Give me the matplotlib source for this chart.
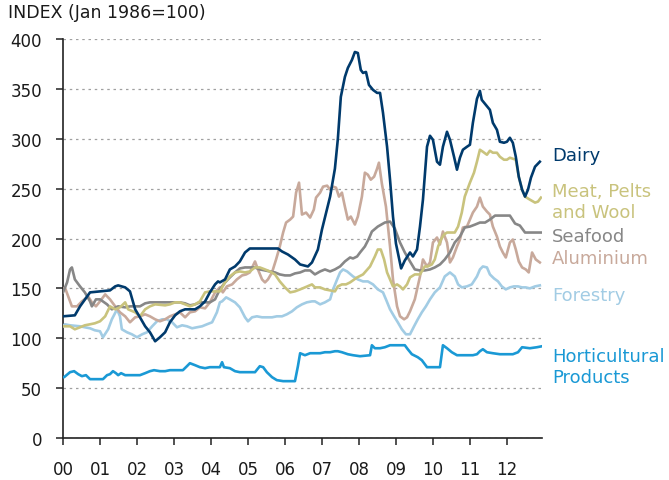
import matplotlib
matplotlib.use("Agg")
import matplotlib.pyplot as plt

# ---- data (years since Jan 2000, index value) ----
dairy_t = [0.00,0.32,0.46,0.73,1.00,1.27,1.41,1.49,1.68,1.81,1.95,2.08,2.22,2.35,2.49,2.62,2.76,2.89,3.03,3.16,3.30,3.57,3.70,3.84,3.97,4.11,4.19,4.24,4.38,4.51,4.65,4.78,4.92,5.05,5.81,5.92,6.08,6.27,6.41,6.62,6.73,6.89,7.00,7.22,7.35,7.43,7.51,7.62,7.70,7.81,7.89,7.97,8.05,8.11,8.19,8.27,8.38,8.49,8.57,8.65,8.76,8.84,8.92,9.00,9.14,9.24,9.38,9.46,9.57,9.65,9.73,9.84,9.92,10.00,10.11,10.19,10.27,10.38,10.46,10.57,10.65,10.73,10.81,10.92,11.00,11.08,11.19,11.27,11.32,11.43,11.54,11.62,11.73,11.81,11.92,12.00,12.08,12.16,12.24,12.32,12.41,12.49,12.57,12.65,12.76,12.89]
dairy_v = [122,123,132,146,147,148,152,153,151,147,129,121,112,106,97,101,106,116,123,127,129,129,132,137,146,154,157,156,159,169,172,177,186,190,190,187,184,179,174,172,176,189,209,242,270,300,342,362,371,379,387,386,369,366,367,354,349,346,346,326,292,259,222,195,170,178,186,182,189,212,239,292,303,299,277,274,292,307,299,282,269,281,289,292,294,316,340,348,339,334,329,316,309,297,296,297,301,296,282,262,249,242,249,261,272,277]

meat_t = [0.00,0.19,0.32,0.46,0.59,0.73,0.86,1.00,1.14,1.27,1.41,1.54,1.68,1.76,1.95,2.08,2.22,2.35,2.49,2.76,2.89,3.03,3.16,3.30,3.43,3.57,3.70,3.84,3.97,4.24,4.38,4.51,4.65,4.78,4.92,5.05,5.19,5.32,5.46,5.59,5.73,5.86,6.00,6.14,6.27,6.41,6.54,6.73,6.81,6.95,7.08,7.22,7.35,7.43,7.54,7.65,7.76,7.95,8.11,8.30,8.43,8.51,8.59,8.68,8.76,8.84,8.92,9.03,9.11,9.19,9.30,9.38,9.51,9.65,9.78,9.86,9.97,10.05,10.14,10.22,10.30,10.38,10.59,10.68,10.78,10.86,11.00,11.11,11.19,11.27,11.35,11.46,11.54,11.62,11.73,11.81,11.92,12.00,12.08,12.16,12.24,12.32,12.41,12.49,12.62,12.76,12.84,12.92]
meat_v = [112,112,109,111,113,114,115,117,122,132,129,131,136,129,126,122,129,132,134,133,134,136,136,134,132,134,137,146,147,147,156,162,166,167,166,167,171,171,169,167,164,157,151,146,147,149,151,154,151,151,149,148,147,152,154,154,156,161,164,172,182,189,189,179,166,159,152,154,152,149,154,161,164,164,172,172,174,179,192,199,204,206,206,212,226,242,256,266,277,289,287,284,288,286,286,282,279,279,281,280,279,262,249,242,239,236,237,241]

seafood_t = [0.00,0.11,0.19,0.24,0.32,0.46,0.59,0.73,0.78,0.89,1.00,1.19,1.32,1.49,1.68,1.81,2.08,2.22,2.35,2.89,3.16,3.30,3.43,3.57,3.70,3.97,4.11,4.24,4.38,4.51,4.65,4.78,4.92,5.19,5.32,5.46,5.59,5.73,5.86,6.00,6.14,6.27,6.41,6.54,6.68,6.81,6.95,7.08,7.22,7.35,7.49,7.62,7.76,7.84,7.95,8.03,8.16,8.27,8.35,8.51,8.70,8.84,8.97,9.11,9.24,9.38,9.51,9.65,9.78,9.92,10.05,10.19,10.32,10.46,10.59,10.73,10.86,11.00,11.14,11.27,11.41,11.54,11.68,12.08,12.22,12.35,12.49,12.92]
seafood_v = [146,156,169,171,159,152,146,137,132,139,139,134,129,132,131,132,132,135,136,136,136,135,133,134,136,136,139,149,156,161,166,170,171,171,169,168,167,166,164,163,163,165,166,168,168,164,167,169,167,169,172,177,181,180,182,186,192,200,207,212,216,217,210,196,186,177,169,168,168,169,171,174,179,186,196,202,211,212,214,216,216,219,223,223,215,213,206,206]

alu_t = [0.00,0.05,0.14,0.24,0.38,0.51,0.68,0.78,0.89,1.00,1.14,1.27,1.41,1.54,1.68,1.81,1.95,2.08,2.22,2.35,2.49,2.62,2.76,2.89,3.03,3.16,3.30,3.43,3.57,3.70,3.84,3.97,4.11,4.24,4.32,4.43,4.57,4.70,4.84,4.95,5.05,5.19,5.27,5.38,5.46,5.54,5.65,5.76,5.86,5.95,6.03,6.14,6.22,6.30,6.38,6.46,6.57,6.68,6.78,6.84,6.95,7.03,7.14,7.22,7.30,7.38,7.46,7.54,7.62,7.70,7.78,7.89,7.97,8.08,8.16,8.24,8.32,8.41,8.49,8.54,8.62,8.73,8.84,8.92,9.03,9.11,9.22,9.30,9.38,9.51,9.65,9.73,9.84,9.92,10.00,10.11,10.19,10.27,10.38,10.46,10.54,10.65,10.73,10.81,10.92,11.00,11.08,11.19,11.27,11.35,11.46,11.54,11.62,11.73,11.81,11.89,11.97,12.08,12.16,12.24,12.32,12.41,12.51,12.59,12.68,12.78,12.89]
alu_v = [149,151,142,132,132,137,142,136,132,137,144,139,132,126,122,116,121,122,124,122,119,117,119,122,124,126,121,126,127,131,130,136,146,151,146,152,154,159,163,164,166,177,169,159,156,159,166,179,192,206,216,219,222,246,256,224,226,221,229,241,246,252,253,249,252,251,242,246,232,219,222,214,222,242,266,264,259,262,270,276,255,232,192,159,132,122,119,121,127,139,162,179,172,176,196,201,194,207,196,176,181,192,199,211,212,219,226,232,241,232,227,224,212,202,192,186,181,196,199,189,177,171,169,166,186,179,176]

forest_t = [0.00,0.05,0.19,0.46,0.59,0.73,0.86,1.00,1.08,1.22,1.32,1.46,1.54,1.59,1.73,1.86,2.00,2.14,2.27,2.41,2.54,2.68,2.81,2.95,3.08,3.22,3.35,3.49,3.62,3.76,3.89,4.03,4.16,4.24,4.30,4.41,4.51,4.65,4.78,4.92,5.00,5.11,5.24,5.38,5.65,5.78,5.92,6.05,6.19,6.32,6.46,6.59,6.73,6.81,6.95,7.08,7.22,7.30,7.41,7.49,7.57,7.68,7.84,7.97,8.11,8.24,8.38,8.51,8.65,8.73,8.84,8.95,9.05,9.16,9.27,9.38,9.49,9.59,9.70,9.81,9.92,10.05,10.19,10.32,10.46,10.59,10.68,10.78,10.92,11.05,11.19,11.27,11.35,11.46,11.54,11.65,11.76,11.86,11.97,12.08,12.19,12.30,12.41,12.51,12.62,12.76,12.89]
forest_v = [112,114,113,112,111,110,108,107,101,109,119,129,122,109,106,104,101,104,106,112,117,119,119,116,111,113,112,110,111,112,114,116,126,136,137,141,139,136,131,121,117,121,122,121,121,122,122,124,127,131,134,136,137,137,134,136,139,149,159,166,169,167,162,159,157,157,154,149,146,139,129,122,116,109,104,104,112,119,126,132,139,146,151,162,166,162,154,151,152,154,162,169,172,171,164,160,157,152,149,151,152,152,151,151,150,152,153]

hort_t = [0.00,0.03,0.19,0.30,0.41,0.51,0.62,0.73,1.08,1.19,1.27,1.35,1.43,1.49,1.57,1.68,2.08,2.22,2.35,2.46,2.62,2.76,2.89,3.24,3.35,3.43,3.57,3.70,3.84,3.97,4.24,4.30,4.35,4.51,4.65,4.78,5.19,5.32,5.41,5.51,5.65,5.78,5.95,6.27,6.35,6.41,6.54,6.68,6.95,7.08,7.22,7.35,7.43,7.54,7.70,7.84,8.03,8.30,8.35,8.43,8.57,8.70,8.84,9.24,9.32,9.43,9.59,9.70,9.84,10.19,10.27,10.38,10.51,10.65,11.08,11.19,11.27,11.35,11.46,11.62,11.81,12.16,12.30,12.41,12.62,12.81,12.95]
hort_v = [61,61,66,67,64,62,63,59,59,63,64,67,65,63,65,63,63,65,67,68,67,67,68,68,72,75,73,71,70,71,71,76,71,70,67,66,66,72,71,66,61,58,57,57,72,85,83,85,85,86,86,87,87,86,84,83,82,83,93,90,90,91,93,93,89,84,81,78,71,71,93,90,86,83,83,84,87,89,86,85,84,84,86,91,90,91,92]

tick_labels = ["00","01","02","03","04","05","06","07","08","09","10","11","12"]
y_ticks = [0, 50, 100, 150, 200, 250, 300, 350, 400]

series = [
    ("Dairy", dairy_t, dairy_v, "#003a6c", 284),
    ("Meat, Pelts\nand Wool", meat_t, meat_v, "#c9c37d", 237),
    ("Seafood", seafood_t, seafood_v, "#878787", 203),
    ("Aluminium", alu_t, alu_v, "#c8a99b", 180),
    ("Forestry", forest_t, forest_v, "#a2cce4", 143),
    ("Horticultural\nProducts", hort_t, hort_v, "#1a99d5", 72),
]

fig = plt.figure(figsize=(6.69, 4.81), dpi=100)
ax = fig.add_axes([0.0942, 0.0873, 0.7155, 0.8295])

draw_order = [5, 4, 3, 2, 1, 0]
for i in draw_order:
    name, t, v, c, ly = series[i]
    ax.plot(t, v, color=c, lw=1.9, solid_joinstyle="round", zorder=3 + (5 - i))

for name, t, v, c, ly in series:
    ax.text(13.22, ly, name, color=c, fontsize=13, va="center", ha="left",
            linespacing=1.2, clip_on=False)

ax.set_xlim(0, 12.94)
ax.set_ylim(0, 400)
ax.set_yticks(y_ticks)
ax.set_xticks(range(len(tick_labels)))
ax.set_xticklabels(tick_labels)
ax.tick_params(axis="both", labelsize=12, color="#333333", length=5, width=1.2,
               labelcolor="#1a1a1a")
ax.tick_params(axis="y", pad=10)
ax.tick_params(axis="x", pad=11)
ax.grid(axis="y", linestyle=(0, (2, 3)), color="#a0a0a0", lw=0.9)
ax.set_axisbelow(True)
for s in ["top", "right"]:
    ax.spines[s].set_visible(False)
for s in ["left", "bottom"]:
    ax.spines[s].set_color("#222222")
    ax.spines[s].set_linewidth(1.2)

fig.text(0.012, 0.972, "INDEX (Jan 1986=100)", fontsize=12.5, color="#1a1a1a",
         ha="left", va="center")

fig.savefig("out.png", dpi=100)
